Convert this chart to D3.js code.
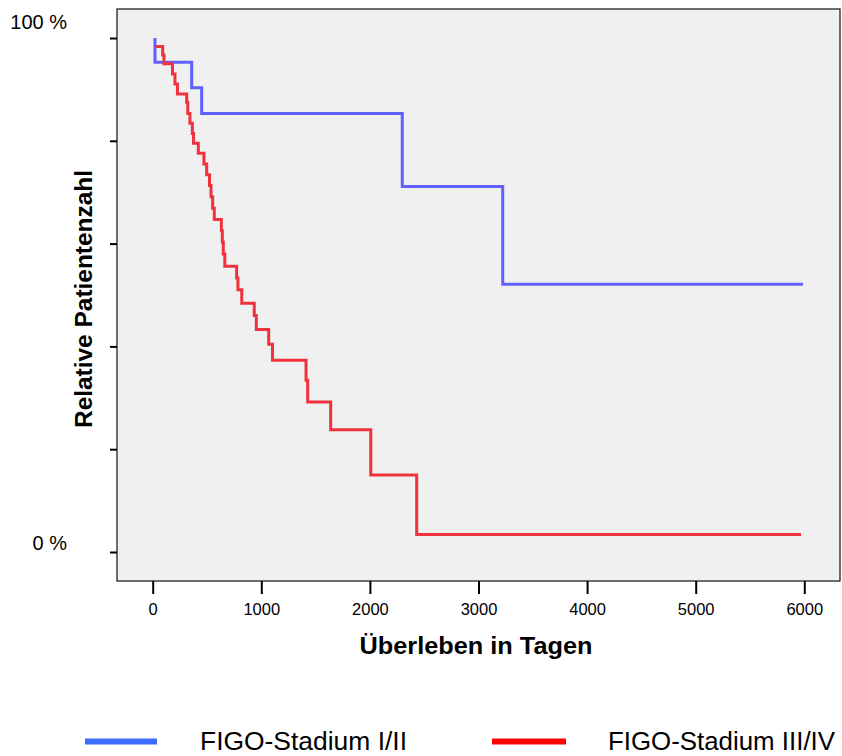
<!DOCTYPE html>
<html>
<head>
<meta charset="utf-8">
<script src="https://cdn.jsdelivr.net/npm/d3@7/dist/d3.min.js"></script>
<style>
  html, body { margin: 0; padding: 0; background: #ffffff; }
  svg { display: block; font-family: "Liberation Sans", Arial, Helvetica, sans-serif; }
</style>
</head>
<body>
<svg id="chart" width="842" height="756"></svg>
<script>
// ---- data ----
const seriesNames = ["FIGO-Stadium I/II", "FIGO-Stadium III/IV"];
const xTicks = [0, 1000, 2000, 3000, 4000, 5000, 6000];
const yTicks = [0, 20, 40, 60, 80, 100];
const yTickLabels = { 0: "0 %", 100: "100 %" };

// FIGO I/II : step times (days) and relative survival (%)
const blueTimes  = [21, 21, 359, 451, 2298, 3223, 5988];
const blueValues = [100, 95.3, 90.3, 85.3, 71.1, 52.1, 52.1];

// FIGO III/IV
const redTimes  = [21, 92, 104, 182, 205, 228, 313, 323, 343, 365,
                   376, 420, 472, 497, 523, 537, 552, 567, 632, 641,
                   650, 664, 773, 785, 820, 935, 954, 1068, 1103, 1412,
                   1427, 1639, 2008, 2431, 5970];
const redValues = [98.35, 96.7, 95.0, 93.0, 91.05, 89.1, 87.5, 85.3, 83.4, 81.4,
                   79.5, 77.6, 75.5, 73.4, 71.3, 69.1, 66.9, 64.7, 62.5, 60.3,
                   58.0, 55.6, 53.3, 51.0, 48.4, 46.0, 43.3, 40.4, 37.3, 33.4,
                   29.2, 23.8, 15.0, 3.4, 3.4];

const lineColors   = ["#6060ff", "#f0323c"];
const legendColors = ["#3d6dff", "#ff0000"];

// ---- layout ----
const svg = d3.select("#chart");
const frame = { x: 117, y: 9, w: 723, h: 572 };

const x = d3.scaleLinear().domain([0, 6000]).range([152.7, 804.3]);
const y = d3.scaleLinear().domain([0, 100]).range([552, 38]);

// plot background
svg.append("rect")
  .attr("x", frame.x).attr("y", frame.y)
  .attr("width", frame.w).attr("height", frame.h)
  .attr("fill", "#f0f0f0");

// series
const line = d3.line()
  .x(d => x(d[0]))
  .y(d => y(d[1]))
  .curve(d3.curveStepAfter);

const series = [
  d3.zip(blueTimes, blueValues),
  d3.zip(redTimes, redValues)
];

series.forEach((pts, i) => {
  svg.append("path")
    .datum(pts)
    .attr("d", line)
    .attr("fill", "none")
    .attr("stroke", lineColors[i])
    .attr("stroke-width", 3)
    .attr("stroke-linejoin", "miter")
    .attr("stroke-linecap", "butt");
});

// frame border
svg.append("rect")
  .attr("x", frame.x).attr("y", frame.y)
  .attr("width", frame.w).attr("height", frame.h)
  .attr("fill", "none")
  .attr("stroke", "#222")
  .attr("stroke-width", 1.3);

// x axis
const xAxis = svg.append("g")
  .attr("transform", `translate(0,${frame.y + frame.h})`)
  .call(d3.axisBottom(x).tickValues(xTicks).tickSize(13).tickSizeOuter(0).tickFormat(d3.format("d")));
xAxis.select(".domain").remove();
xAxis.selectAll(".tick line").attr("stroke", "#000").attr("stroke-width", 2);
xAxis.selectAll(".tick text")
  .attr("y", 34).attr("dy", 0)
  .attr("fill", "#000")
  .style("font-size", "16.5px")
  .style("font-family", "'Liberation Sans', Arial, sans-serif");

// y axis
const yAxis = svg.append("g")
  .attr("transform", `translate(${frame.x},0)`)
  .call(d3.axisLeft(y).tickValues(yTicks).tickSize(7).tickSizeOuter(0)
    .tickFormat(d => yTickLabels[d] || ""));
yAxis.select(".domain").remove();
yAxis.selectAll(".tick line").attr("stroke", "#000").attr("stroke-width", 2);
yAxis.selectAll(".tick text")
  .attr("x", -50)
  .attr("dy", 0)
  .attr("y", d => d === 100 ? -10 : -3)
  .attr("text-anchor", "end")
  .attr("fill", "#000")
  .style("font-size", "20px")
  .style("font-family", "'Liberation Sans', Arial, sans-serif");

// axis titles
svg.append("text")
  .attr("x", 476).attr("y", 654)
  .attr("text-anchor", "middle")
  .attr("font-weight", "bold")
  .attr("font-size", 24)
  .attr("textLength", 233)
  .attr("lengthAdjust", "spacingAndGlyphs")
  .text("Überleben in Tagen");

svg.append("text")
  .attr("transform", "translate(92,299) rotate(-90)")
  .attr("text-anchor", "middle")
  .attr("font-weight", "bold")
  .attr("font-size", 24)
  .attr("textLength", 258)
  .attr("lengthAdjust", "spacingAndGlyphs")
  .text("Relative Patientenzahl");

// legend
const legendItems = [
  { name: seriesNames[0], color: legendColors[0], x1: 85,  x2: 157, tx: 200, tl: 207 },
  { name: seriesNames[1], color: legendColors[1], x1: 492, x2: 566, tx: 608, tl: 227 }
];
const lg = svg.append("g");
legendItems.forEach(it => {
  lg.append("line")
    .attr("x1", it.x1).attr("x2", it.x2)
    .attr("y1", 741.5).attr("y2", 741.5)
    .attr("stroke", it.color)
    .attr("stroke-width", 6);
  lg.append("text")
    .attr("x", it.tx).attr("y", 750)
    .attr("font-size", 26)
    .attr("textLength", it.tl)
    .attr("lengthAdjust", "spacingAndGlyphs")
    .attr("fill", "#000")
    .text(it.name);
});
</script>
</body>
</html>
